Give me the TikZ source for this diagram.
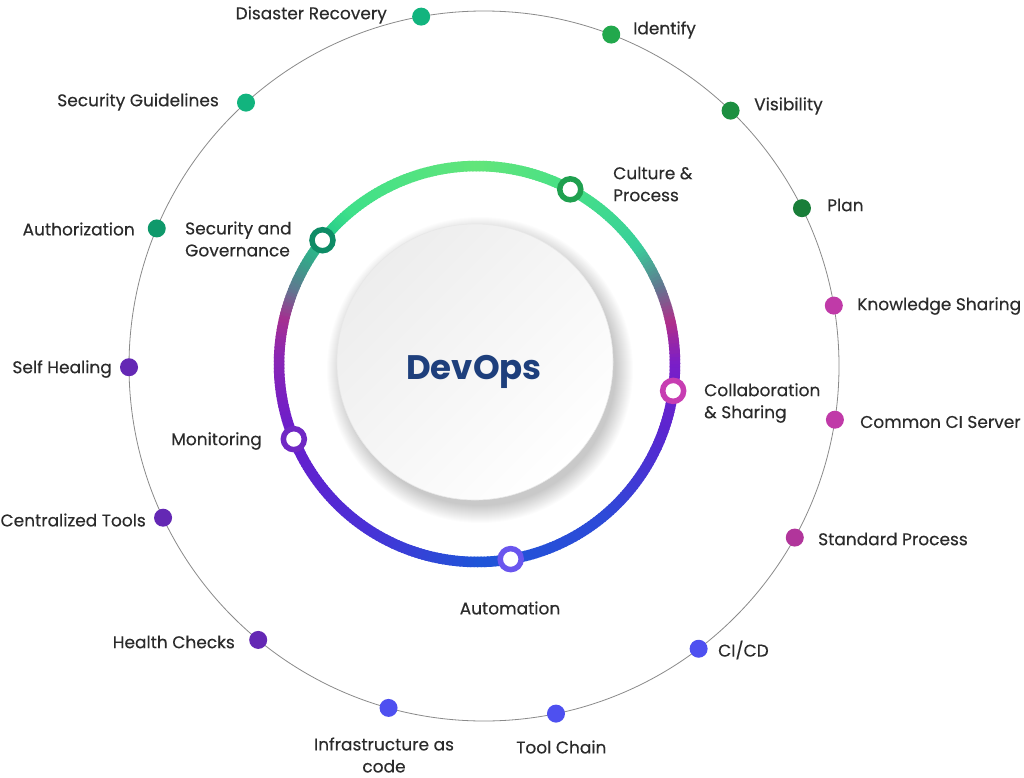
\documentclass[tikz,border=0pt]{standalone}
\usepackage{fontspec}
\setmainfont{Poppins}
\newfontfamily\lblfont{Poppins}[FakeBold=0.25]
\usetikzlibrary{calc}
\definecolor{txt}{HTML}{2B2B2B}
\definecolor{devops}{HTML}{1E3F7C}
\definecolor{outerline}{HTML}{8A8A8A}
% ring key colours
\definecolor{k0}{HTML}{62E57A}
\definecolor{k1}{HTML}{3EE08A}
\definecolor{k2}{HTML}{22C88A}
\definecolor{k3}{HTML}{3A9F8A}
\definecolor{k4}{HTML}{607890}
\definecolor{k5}{HTML}{A52E90}
\definecolor{k6}{HTML}{8A26B4}
\definecolor{k7}{HTML}{6A1CCC}
\definecolor{k8}{HTML}{4A30D6}
\definecolor{k9}{HTML}{1F55D8}
\definecolor{k10}{HTML}{2D4AD8}
\definecolor{k11}{HTML}{5A26D0}
\definecolor{k12}{HTML}{7A1EC8}
\definecolor{k13}{HTML}{B02E8A}
\definecolor{k14}{HTML}{607890}
\definecolor{k15}{HTML}{38CF9A}
\definecolor{k16}{HTML}{45E088}
% marker colours
\definecolor{mcult}{HTML}{1FA04F}
\definecolor{msec}{HTML}{0E8C66}
\definecolor{mcoll}{HTML}{C73DB2}
\definecolor{mmon}{HTML}{7028C4}
\definecolor{maut}{HTML}{6A56EE}
% dot colours
\definecolor{dgreen}{HTML}{22A84C}
\definecolor{dteal}{HTML}{12B47E}
\definecolor{dmag}{HTML}{C03AA8}
\definecolor{dblue}{HTML}{4E50F0}
\definecolor{dpurp}{HTML}{6428B4}
\tikzset{
  lbl/.style={inner sep=0pt, text=txt, font=\lblfont\fontsize{17}{22}\selectfont},
  dot/.style={circle, inner sep=0pt, minimum size=18pt},
  marker/.style={circle, inner sep=0pt, minimum size=21pt, line width=5.5pt, fill=white},
}
\begin{document}
\begin{tikzpicture}[x=1pt,y=-1pt]
\useasboundingbox (0,0) rectangle (1024,778);
\fill[white] (0,0) rectangle (1024,778);
\coordinate (oc) at (484,366);
\coordinate (rc) at (477,364);
\coordinate (cc) at (475,362);
% outer circle
\draw[outerline, line width=0.8pt] (oc) circle (355);
% central disc shadow
\foreach \i in {1,...,18} {
  \fill[black, opacity=0.012] ($(cc)+(5,8)$) circle (135+\i);
}
\shade[shading=axis, top color=gray!14, bottom color=white, shading angle=45] (cc) circle (138);
\draw[gray!18, line width=0.6pt] (cc) circle (138);
% gradient ring
\foreach \a/\b/\ca/\cb in {90/130/k0/k1, 130/141/k1/k2, 141/150/k2/k3, 150/158/k3/k4, 158/167/k4/k5, 167/178/k5/k6, 178/200/k6/k7, 200/235/k7/k8, 235/270/k8/k9, 270/310/k9/k10, 310/340/k10/k11, 340/360/k11/k12, 360/372/k12/k13, 372/383/k13/k14, 383/396/k14/k15, 396/420/k15/k16, 420/450/k16/k0} {
  \pgfmathtruncatemacro\n{\b-\a}
  \foreach \i in {1,...,\n} {
    \pgfmathtruncatemacro\t{100*(\i-0.5)/\n}
    \pgfmathsetmacro\s{\a+\i-1}
    \pgfmathsetmacro\e{\a+\i+0.4}
    \draw[line width=10.5pt, color=\cb!\t!\ca] (rc) ++(-\s:198) arc (-\s:-\e:198);
  }
}
% markers on ring
\node[marker, draw=mcult] (mcu) at ($(rc)+(-61.9:198)$) {};
\node[marker, draw=msec] (mse) at ($(rc)+(-141.3:198)$) {};
\node[marker, draw=mcoll] (mco) at ($(rc)+(7.8:198)$) {};
\node[marker, draw=mmon] (mmo) at ($(rc)+(157.7:198)$) {};
\node[marker, draw=maut] (mau) at ($(rc)+(80.2:198)$) {};
% centre text
\node[inner sep=0pt, text=devops, font=\bfseries\fontsize{34}{40}\selectfont] (devops) at (474,372) {DevOps};
% inner labels
\node[lbl, anchor=west, align=left] (lcu) at (613,184) {Culture \&\\Process};
\node[lbl, anchor=west, align=left] (lse) at (185,239) {Security and\\Governance};
\node[lbl, anchor=west, align=left] (lco) at (704,403) {Collaboration\\\& Sharing};
\node[lbl, anchor=east] (lmo) at (262,441) {Monitoring};
\node[lbl] (lau) at (510,608) {Automation};
% outer dots
\node[dot, fill=dteal] (d1) at ($(oc)+(-100.2:355)$) {};
\node[dot, fill=dgreen] (d2) at ($(oc)+(-69.0:355)$) {};
\node[dot, fill=dgreen!85!black] (d3) at ($(oc)+(-46.0:355)$) {};
\node[dot, fill=dgreen!75!black] (d4) at ($(oc)+(-26.4:355)$) {};
\node[dot, fill=dmag] (d5) at ($(oc)+(-9.8:355)$) {};
\node[dot, fill=dmag] (d6) at ($(oc)+(8.7:355)$) {};
\node[dot, fill=dmag!92!black] (d7) at ($(oc)+(28.9:355)$) {};
\node[dot, fill=dblue] (d8) at ($(oc)+(52.8:355)$) {};
\node[dot, fill=dblue] (d9) at ($(oc)+(78.3:355)$) {};
\node[dot, fill=dblue] (d10) at ($(oc)+(105.6:355)$) {};
\node[dot, fill=dpurp] (d11) at ($(oc)+(129.5:355)$) {};
\node[dot, fill=dpurp] (d12) at ($(oc)+(154.7:355)$) {};
\node[dot, fill=dpurp] (d13) at ($(oc)+(179.8:355)$) {};
\node[dot, fill=dteal!85!black] (d14) at ($(oc)+(-157.2:355)$) {};
\node[dot, fill=dteal] (d15) at ($(oc)+(-132.1:355)$) {};
% outer labels
\node[lbl, anchor=east] (l1) at (387,15) {Disaster Recovery};
\node[lbl, anchor=west] (l2) at (633,30) {Identify};
\node[lbl, anchor=west] (l3) at (754,106) {Visibility};
\node[lbl, anchor=west] (l4) at (827,205) {Plan};
\node[lbl, anchor=west] (l5) at (857,306) {Knowledge Sharing};
\node[lbl, anchor=west] (l6) at (860,422) {Common CI Server};
\node[lbl, anchor=west] (l7) at (818,539) {Standard Process};
\node[lbl, anchor=west] (l8) at (718,650) {CI/CD};
\node[lbl, anchor=west] (l9) at (516,747) {Tool Chain};
\node[lbl, align=center] (l10) at (384,755) {Infrastructure as\\code};
\node[lbl, anchor=east] (l11) at (235,642) {Health Checks};
\node[lbl, anchor=east] (l12) at (146,520) {Centralized Tools};
\node[lbl, anchor=east] (l13) at (112,369) {Self Healing};
\node[lbl, anchor=east] (l14) at (135,229) {Authorization};
\node[lbl, anchor=east] (l15) at (219,102) {Security Guidelines};
\end{tikzpicture}
\end{document}
